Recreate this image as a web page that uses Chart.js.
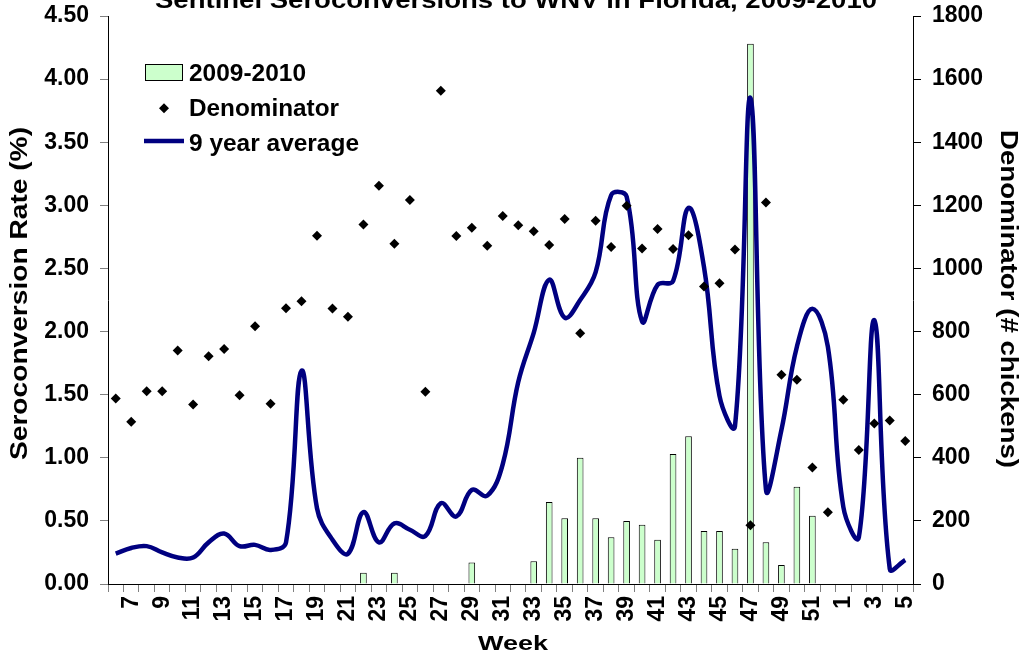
<!DOCTYPE html>
<html><head><meta charset="utf-8">
<script src="https://cdn.jsdelivr.net/npm/chart.js@4.4.1/dist/chart.umd.min.js"></script>
<style>html,body{margin:0;padding:0;background:#fff;}#wrap{width:1031px;height:657px;}</style>
</head><body><div id="wrap"><canvas id="c" width="1031" height="657"></canvas></div>
<script>
// ---- data ----
const weeks = [6,7,8,9,10,11,12,13,14,15,16,17,18,19,20,21,22,23,24,25,26,27,28,29,30,31,32,33,34,35,36,37,38,39,40,41,42,43,44,45,46,47,48,49,50,51,52,1,2,3,4,5];
const rate2009 = [null,null,null,null,null,null,null,null,null,null,null,null,null,null,null,null,0.09,null,0.09,null,null,null,null,0.17,null,null,null,0.18,0.65,0.52,1.00,0.52,0.37,0.50,0.47,0.35,1.03,1.17,0.42,0.42,0.28,4.28,0.33,0.15,0.77,0.54,null,null,null,null,null,null];
const denominator = [588,514,611,611,740,569,722,745,598,817,571,874,896,1104,873,847,1139,1262,1078,1217,609,1563,1103,1129,1072,1166,1137,1118,1074,1157,795,1151,1068,1199,1063,1125,1062,1105,943,953,1060,186,1209,663,647,369,227,584,425,509,518,453];
const avg9 = [0.24,0.285,0.30,0.25,0.21,0.21,0.33,0.40,0.30,0.31,0.27,0.33,1.69,0.60,0.35,0.24,0.57,0.33,0.48,0.43,0.38,0.64,0.535,0.745,0.70,0.95,1.60,1.99,2.41,2.11,2.25,2.47,3.08,3.07,2.08,2.37,2.40,2.98,2.51,1.49,1.25,3.85,0.75,1.22,1.88,2.18,1.88,0.61,0.37,2.09,0.12,0.19];
const seriesNames = ['2009-2010','Denominator','9 year average'];
const titleText = 'Sentinel Seroconversions to WNV in Florida, 2009-2010';
const leftTitle = 'Seroconversion Rate (%)';
const rightTitle = 'Denominator (# chickens)';
const xTitle = 'Week';

const FONT = '"Liberation Sans", Arial, sans-serif';
const BAR_FILL = '#ccffcc';
const NAVY = '#000080';

function drawText(ctx, text, x, y, size, angle, align, baseline, length) {
  ctx.save();
  ctx.translate(x, y);
  ctx.rotate(angle);
  ctx.font = 'bold ' + size + 'px ' + FONT;
  const w = ctx.measureText(text).width;
  const sx = length ? length / w : 1;
  ctx.scale(sx, 1);
  ctx.textAlign = align;
  ctx.textBaseline = baseline;
  ctx.fillStyle = '#000';
  ctx.fillText(text, 0, 0);
  ctx.restore();
}

const decor = {
  id: 'decor',
  afterDraw(chart) {
    const ctx = chart.ctx;
    drawText(ctx, titleText, 516, 7.5, 23, 0, 'center', 'alphabetic', 722);
    drawText(ctx, leftTitle, 21, 293.5, 23, -Math.PI / 2, 'center', 'middle', 333);
    drawText(ctx, rightTitle, 1007, 299, 23, Math.PI / 2, 'center', 'middle', 338);
    drawText(ctx, xTitle, 513, 650, 21, 0, 'center', 'alphabetic', 70);
    // legend
    ctx.save();
    ctx.fillStyle = BAR_FILL; ctx.strokeStyle = '#000'; ctx.lineWidth = 1;
    ctx.fillRect(145.5, 64.5, 37, 16); ctx.strokeRect(145.5, 64.5, 37, 16);
    ctx.fillStyle = '#000';
    ctx.beginPath(); ctx.moveTo(159, 108.3); ctx.lineTo(164, 103.3); ctx.lineTo(169, 108.3); ctx.lineTo(164, 113.3); ctx.closePath(); ctx.fill();
    ctx.strokeStyle = NAVY; ctx.lineWidth = 4.5;
    ctx.beginPath(); ctx.moveTo(144, 141); ctx.lineTo(184, 141); ctx.stroke();
    ctx.restore();
    drawText(ctx, seriesNames[0], 189, 81, 23, 0, 'left', 'alphabetic', 117);
    drawText(ctx, seriesNames[1], 189, 115.7, 23, 0, 'left', 'alphabetic', 150);
    drawText(ctx, seriesNames[2], 189, 150.5, 23, 0, 'left', 'alphabetic', 170);
  }
};

const tickFont = { family: FONT, size: 23, weight: 'bold' };

new Chart(document.getElementById('c'), {
  data: {
    labels: weeks.map(String),
    datasets: [
      { type: 'bar', label: seriesNames[0], data: rate2009, yAxisID: 'y', order: 3,
        backgroundColor: BAR_FILL, borderColor: '#000', borderWidth: 1,
        barPercentage: 0.43, categoryPercentage: 1 },
      { type: 'line', label: seriesNames[2], data: avg9, yAxisID: 'y', order: 2,
        borderColor: NAVY, borderWidth: 4.5, tension: 0.4, pointRadius: 0, fill: false },
      { type: 'line', label: seriesNames[1], data: denominator, yAxisID: 'y1', order: 1,
        showLine: false, pointStyle: 'rectRot', pointRadius: 5, pointBorderWidth: 0,
        pointBackgroundColor: '#000', pointBorderColor: '#000' }
    ]
  },
  options: {
    responsive: false,
    animation: false,
    devicePixelRatio: 1,
    layout: { padding: { top: 16, left: 0, right: 0, bottom: 0 } },
    plugins: { legend: { display: false }, tooltip: { enabled: false }, title: { display: false } },
    scales: {
      x: {
        type: 'category', offset: true,
        grid: { offset: true, display: true, drawOnChartArea: false, drawTicks: true, tickLength: 8, color: '#808080' },
        border: { display: true, color: '#000', width: 1 },
        ticks: { autoSkip: false, maxRotation: 90, minRotation: 90, padding: 4, font: tickFont, color: '#000',
          callback: (v, i) => (weeks[i] % 2 === 1 ? String(weeks[i]) : '') },
        afterFit(s) { s.height = 73; s.paddingLeft = 0; s.paddingRight = 0; }
      },
      y: {
        position: 'left', min: 0, max: 4.5,
        grid: { drawOnChartArea: false, drawTicks: true, tickLength: 8, color: '#808080' },
        border: { display: true, color: '#000', width: 1 },
        ticks: { stepSize: 0.5, padding: 11, font: tickFont, color: '#000', callback: v => Number(v).toFixed(2) },
        afterFit(s) { s.width = 108; s.paddingTop = 0; s.paddingBottom = 0; }
      },
      y1: {
        position: 'right', min: 0, max: 1800,
        grid: { drawOnChartArea: false, drawTicks: true, tickLength: 8, color: '#000' },
        border: { display: true, color: '#000', width: 1 },
        ticks: { stepSize: 200, padding: 11, font: tickFont, color: '#000', callback: v => String(v) },
        afterFit(s) { s.width = 118; s.paddingTop = 0; s.paddingBottom = 0; }
      }
    }
  },
  plugins: [decor]
});
</script></body></html>
